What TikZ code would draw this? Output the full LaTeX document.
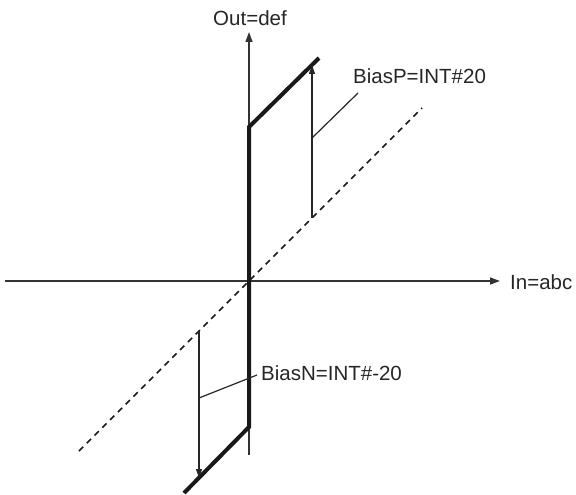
\documentclass[tikz,border=0pt]{standalone}
\usepackage{fontspec}
\setmainfont{Liberation Sans}
\usetikzlibrary{arrows.meta}
\begin{document}
\begin{tikzpicture}[x=1pt,y=-1pt,
  lbl/.style={inner sep=0pt,font=\fontsize{20.5}{24}\selectfont,text=black!85},
  axis/.style={line width=1.5pt,draw=black!80,-{Triangle[length=10pt,width=7pt]}},
  thin/.style={line width=1.2pt,draw=black!85},
  thinarrow/.style={thin,-{Triangle[length=9pt,width=6pt]}},
  curve/.style={line width=4pt,draw=black!90},
  ideal/.style={line width=1.6pt,draw=black!90,dash pattern=on 6pt off 5pt}]
\useasboundingbox (0,0) rectangle (576,495);
% coordinates
\coordinate (xl) at (5,281);
\coordinate (xr) at (500,281);
\coordinate (yb) at (249,455);
\coordinate (yt) at (249,32);
\coordinate (c1) at (184,493);
\coordinate (c2) at (249,427);
\coordinate (c3) at (249,127);
\coordinate (c4) at (319,58);
\coordinate (d1) at (79,451);
\coordinate (d2) at (422,108);
\coordinate (ua) at (312,218);
\coordinate (ub) at (312,65);
\coordinate (da) at (199,331);
\coordinate (db) at (199,478);
\coordinate (lp1) at (312,138);
\coordinate (lp2) at (358,93);
\coordinate (ln1) at (199,398);
\coordinate (ln2) at (257,375);
% labels
\node[lbl] (out) at (250,18) {Out=def};
\node[lbl,anchor=west] (in) at (510,282) {In=abc};
\node[lbl,anchor=west] (bp) at (353,76) {BiasP=INT\#20};
\node[lbl,anchor=west] (bn) at (261,373) {BiasN=INT\#-20};
% axes
\draw[axis] (xl) -- (xr);
\draw[axis] (yb) -- (yt);
% ideal line
\draw[ideal] (d1) -- (d2);
% curve
\draw[curve,line join=miter] (c1) -- (c2) -- (c3) -- (c4);
% bias arrows
\draw[thinarrow] (ua) -- (ub);
\draw[thinarrow] (da) -- (db);
% leaders
\draw[thin] (lp1) -- (lp2);
\draw[thin] (ln1) -- (ln2);
\end{tikzpicture}
\end{document}
